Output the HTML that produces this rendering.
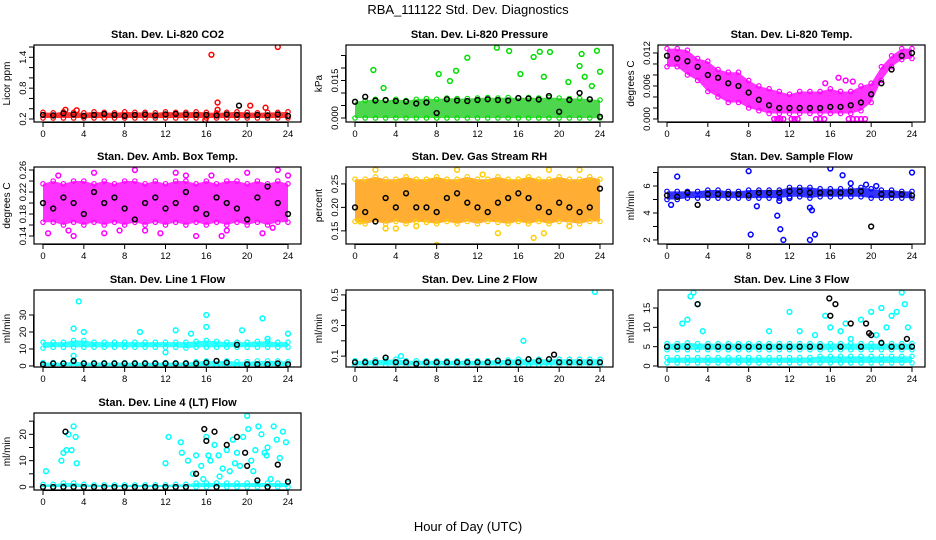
<!DOCTYPE html>
<html><head><meta charset="utf-8"><style>
body{margin:0;background:#fff}
svg{display:block;font-family:"Liberation Sans",sans-serif}
</style></head><body>
<svg id="c" width="936" height="540" viewBox="0 0 936 540">
<text x="468" y="14" font-size="13" text-anchor="middle">RBA_111122  Std. Dev. Diagnostics</text>
<text x="468" y="531" font-size="13" text-anchor="middle">Hour of Day (UTC)</text>
</svg>
<script>
// hour ticks
const xTicks=[0,4,8,12,16,20,24];
const H=[0,1,2,3,4,5,6,7,8,9,10,11,12,13,14,15,16,17,18,19,20,21,22,23,24];
// CO2
const co2Lo=[0.22,0.22,0.22,0.22,0.22,0.22,0.22,0.22,0.22,0.22,0.22,0.22,0.22,0.22,0.22,0.22,0.22,0.22,0.22,0.22,0.22,0.22,0.22,0.22,0.22];
const co2Hi=[0.33,0.32,0.34,0.33,0.32,0.34,0.33,0.32,0.34,0.33,0.33,0.32,0.34,0.33,0.33,0.34,0.33,0.32,0.33,0.34,0.33,0.32,0.33,0.33,0.34];
const co2Blk=[0.28,0.27,0.31,0.29,0.26,0.28,0.3,0.28,0.26,0.28,0.29,0.27,0.29,0.3,0.29,0.28,0.28,0.27,0.29,0.28,0.27,0.28,0.27,0.29,0.26];
const co2OutX=[16.5,23,17.1,20.3,21.8,2.2,3.3,17.1,15.9];
const co2OutY=[1.45,1.6,0.52,0.46,0.42,0.38,0.37,0.38,0.18];
const co2BoX=[19.2];const co2BoY=[0.46];
// Pressure
const prLo=[0,0,0,0,0,0,0,0,0,0,0,0,0,0,0,0,0,0,0,0,0,0,0,0,0];
const prHi=[0.0065,0.007,0.0075,0.007,0.0075,0.007,0.0075,0.0078,0.0075,0.008,0.0078,0.0078,0.008,0.0082,0.008,0.0082,0.008,0.0082,0.008,0.0082,0.008,0.0078,0.0078,0.0075,0.0072];
const prBlk=[0.0065,0.0085,0.007,0.0072,0.0068,0.0066,0.0058,0.0062,0.002,0.0075,0.007,0.0068,0.0072,0.0075,0.0072,0.007,0.008,0.0078,0.0074,0.0088,0.0025,0.0072,0.01,0.0075,0.0005];
const prOutX=[1.8,2.8,8.2,9.3,9.9,11,13.9,15.1,16.2,17.5,18.1,18.5,19.1,20.9,22,22.2,22.5,23.2,23.7,24];
const prOutY=[0.0192,0.012,0.0176,0.0148,0.0189,0.0241,0.0281,0.0268,0.0176,0.0244,0.0265,0.0165,0.0264,0.0144,0.0208,0.0256,0.0165,0.0128,0.0269,0.0185];
// Temp
const tLo=[0.0095,0.0095,0.008,0.007,0.005,0.004,0.003,0.003,0.002,0.0015,0.001,0.001,0.001,0.001,0.001,0.001,0.001,0.001,0.001,0.0015,0.003,0.007,0.0095,0.0108,0.011];
const tHi=[0.0128,0.0128,0.0125,0.011,0.0105,0.009,0.0085,0.0085,0.007,0.006,0.0055,0.005,0.0045,0.005,0.005,0.005,0.0055,0.005,0.005,0.006,0.0065,0.0095,0.0115,0.0128,0.0128];
const tBlk=[0.0115,0.011,0.0105,0.0095,0.008,0.0075,0.0065,0.006,0.0048,0.0035,0.0025,0.002,0.002,0.002,0.002,0.002,0.0022,0.0022,0.0025,0.003,0.0045,0.0065,0.009,0.0115,0.012];
const tOutX=[10.5,10.8,11.1,11.4,12.2,12.5,12.8,14.6,15,15.4,17.8,18.2,18.6,19,19.4,15.5,16.8,17.5,18.2];
const tOutY=[0,0,0,0,0,0,0,0,0,0,0,0,0,0,0,0.0065,0.0075,0.007,0.0068];
// Amb box temp
const abLo=[0.165,0.165,0.16,0.165,0.16,0.165,0.16,0.165,0.16,0.165,0.16,0.165,0.16,0.165,0.16,0.165,0.16,0.165,0.16,0.165,0.16,0.165,0.16,0.165,0.165];
const abHi=[0.235,0.24,0.235,0.24,0.24,0.235,0.24,0.235,0.24,0.24,0.235,0.24,0.235,0.24,0.24,0.235,0.24,0.235,0.24,0.24,0.235,0.24,0.235,0.24,0.235];
const abBlk=[0.2,0.19,0.21,0.2,0.18,0.22,0.2,0.21,0.19,0.17,0.2,0.21,0.19,0.2,0.22,0.19,0.18,0.21,0.2,0.19,0.17,0.21,0.23,0.2,0.18];
const abOutX=[0.5,1.5,3,5,7.5,9,11.5,13,15,16.5,18,20,21.5,23,24,2.5,6,10,14,17.5,22.5];
const abOutY=[0.145,0.25,0.14,0.255,0.15,0.26,0.145,0.255,0.14,0.25,0.15,0.255,0.145,0.26,0.25,0.15,0.145,0.15,0.25,0.14,0.155];
// Gas RH
const rhLo=[0.17,0.165,0.17,0.165,0.17,0.165,0.17,0.168,0.165,0.17,0.165,0.17,0.165,0.17,0.168,0.165,0.17,0.165,0.17,0.165,0.17,0.168,0.165,0.17,0.17];
const rhHi=[0.26,0.26,0.265,0.26,0.26,0.265,0.26,0.26,0.265,0.26,0.26,0.265,0.26,0.26,0.265,0.26,0.26,0.265,0.26,0.26,0.265,0.26,0.26,0.265,0.26];
const rhBlk=[0.2,0.19,0.17,0.22,0.2,0.23,0.2,0.2,0.19,0.22,0.23,0.21,0.2,0.19,0.21,0.22,0.23,0.22,0.2,0.19,0.21,0.2,0.19,0.2,0.24];
const rhOutX=[8,0.5,2,4,10,14,17.5,18.5,19,21,3,6,12.5,22];
const rhOutY=[0.12,0.17,0.28,0.155,0.28,0.145,0.135,0.145,0.28,0.16,0.155,0.16,0.27,0.28];
// Sample flow
const sfLo=[5.0,5.0,5.1,5.1,5.1,5.1,5.1,5.1,5.1,5.1,5.1,5.1,5.2,5.2,5.1,5.2,5.2,5.2,5.2,5.2,5.1,5.1,5.1,5.1,5.1];
const sfHi=[5.6,5.6,5.6,5.6,5.7,5.7,5.6,5.6,5.7,5.7,5.7,5.7,5.9,5.9,5.9,5.8,5.8,5.8,5.8,5.9,5.8,5.7,5.7,5.6,5.6];
const sfBlk=[5.3,5.2,5.5,4.6,5.4,5.4,5.4,5.4,5.3,5.5,5.5,5.5,5.6,5.6,5.5,5.5,5.5,5.5,5.6,5.6,3.0,5.4,5.4,5.4,5.3];
const sfOutX=[0.4,1,8,8.2,8.8,10.8,11.1,11.4,14,14.2,14.5,14,16,17.2,18,19.5,20.5,24,11,12];
const sfOutY=[4.6,6.7,7.1,2.4,4.5,3.8,2.8,2.0,2.0,4.2,2.4,4.4,7.3,6.8,6.2,6.1,6.0,7.0,4.9,5.1];
// Line 1
const l1aLo=[10.5,11,11,11,11,11,11,11,11,11,11,11,11,11,10.5,11,11,11,11,11,11,11,11,11,11];
const l1aHi=[14,14,14,15,15,14,14,14,14,14,14,14,14,14,14,14.5,15,14.5,14,14,14,14.5,14.5,14,14];
const l1bLo=[0,0,0,0,0,0,0,0,0,0,0,0,0,0,0,0,0,0,0,0,0,0,0,0,0];
const l1bHi=[2,2,2,2.5,2,2,2,2,2,2,2,2,2,2,2,2.5,3,3,3,2.5,2.5,3,3,3,2.5];
const l1Blk=[1,1.5,1.5,3,1.5,1.5,1.5,1.5,1.5,1.5,1.5,1.5,1.5,1.5,1.5,1.5,2,3,2,12.5,1,1,1,1.5,1];
const l1OutX=[3.5,3,4,9.5,13,16,16,14.5,19.5,21.5,22,24,3,12];
const l1OutY=[38,22,20,20,21,30,23,19,21,28,16,19,6,8];
// Line 2
const l2Lo=[0.04,0.04,0.04,0.04,0.04,0.04,0.04,0.04,0.04,0.04,0.04,0.04,0.04,0.04,0.04,0.04,0.04,0.04,0.04,0.04,0.04,0.04,0.04,0.04,0.04];
const l2Hi=[0.07,0.07,0.075,0.075,0.08,0.07,0.07,0.07,0.07,0.07,0.07,0.07,0.07,0.07,0.075,0.075,0.08,0.08,0.08,0.08,0.08,0.08,0.08,0.08,0.08];
const l2Blk=[0.06,0.06,0.06,0.09,0.06,0.06,0.05,0.06,0.06,0.06,0.06,0.06,0.06,0.06,0.07,0.06,0.06,0.08,0.07,0.08,0.06,0.06,0.06,0.06,0.06];
const l2OutX=[16.5,23.5,4.5];
const l2OutY=[0.2,0.52,0.1];
const l2BoX=[19.5];const l2BoY=[0.11];
// Line 3
const l3aLo=[4.2,4.2,4.2,4.2,4.2,4.2,4.2,4.2,4.2,4.2,4.2,4.2,4.2,4.2,4.2,4.2,4.2,4.2,4.2,4.2,4.2,4.2,4.2,4.2,4.2];
const l3aHi=[5.8,5.8,6,5.8,5.8,5.8,5.8,5.8,5.8,5.8,5.8,5.8,5.8,5.8,5.8,5.8,5.8,5.8,5.8,5.8,5.8,5.8,5.8,5.8,5.8];
const l3bLo=[0.8,0.8,0.8,0.8,0.8,0.8,0.8,0.8,0.8,0.8,0.8,0.8,0.8,0.8,0.8,0.8,0.8,0.8,0.8,0.8,0.8,0.8,0.8,0.8,0.8];
const l3bHi=[2.2,2.2,2.2,2.2,2.2,2.2,2.2,2.2,2.2,2.2,2.2,2.2,2.2,2.2,2.2,2.5,2.5,2.5,2.5,2.5,2.5,2.5,2.5,2.5,2.5];
const l3Blk=[5,5,5,16,5,5,5,5,5,5,5,5,5,5,5,5,13,5,11,5,8,6,5,5,5];
const l3OutX=[1.5,2,2.3,2.6,3,3.5,10,12,13,14.5,15.5,16,17,17.5,18,19,20,21,22,22.5,23,23.3,23.6,21.5,20.5];
const l3OutY=[11,12,18,19,16,9,9,14,9,8,13,10,9,11,7,12,14,15,13,14,19,16,10,10,8];
const l3BoX=[15.9,16.5,19.5,19.8,23.5];const l3BoY=[17.5,16,11,8.5,7];
// Line 4
const l4Lo=[0,0,0,0,0,0,0,0,0,0,0,0,0,0,0,0,0,0,0,0,0,0,0,0,0];
const l4Hi=[1,1,1.5,1.5,1,0.8,0.8,0.8,0.8,0.8,0.8,0.8,0.8,1,1,1.5,1.5,1.5,1.5,1.5,1.5,1.5,1.5,1.5,1.5];
const l4Blk=[0,0,0,0,0,0,0,0,0,0,0,0,0,0,0,5,17.5,0,16,19,8,2.5,0,8.5,2];
const l4OutX=[0.3,1.8,2,2.3,2.5,2.8,3,3.2,3.3,12,12.3,13.5,13.6,14.2,14.7,15,15.5,16,16.4,16.8,17.2,17.6,18,18.3,18.6,19,19.3,19.6,20,20.1,20.4,20.8,21.1,21.4,21.7,22,22.3,22.6,22.9,23.2,23.5,23.8,17.3,18.8,20.6,21.9,15.7,16.2];
const l4OutY=[6,10,13,14,20,14,23,19,9,9,19,17,13,10,5,12,8,19,10,16,12,7,14,6,18,13,8,19,27,22,10,14,23,20,13,15,3,23,18,11,21,17,4,9,6,12,3,12];
const l4BoX=[2.2,15.8,16.8,19.8];const l4BoY=[21,22,21,13];

const NS='http://www.w3.org/2000/svg';
const svg=document.getElementById('c');
function mk(tag,attrs,parent){const e=document.createElementNS(NS,tag);for(const k in attrs)e.setAttribute(k,attrs[k]);(parent||svg).appendChild(e);return e;}

function panel(name,left,top,title,ylab,ymin,ymax,yTicks,yLabels){
  const g=mk('g',{});
  
  
  const W=267,Hh=77;
  const fx=v=>left+9+v*245/24;
  const fy=v=>top+Hh-(v-ymin)/(ymax-ymin)*Hh;
  const t=mk('text',{x:left+W/2,y:top-7,'font-size':11,'font-weight':'bold','text-anchor':'middle'},g);
  t.textContent=title;
  
  
  const yl=mk('text',{x:0,y:0,'font-size':10,'text-anchor':'middle',transform:`translate(${left-24},${top+Hh/2}) rotate(-90)`},g);
  yl.textContent=ylab;
  
  
  const ax=mk('g',{stroke:'#000','stroke-width':1,fill:'none'},g);
  
  
  mk('line',{x1:fx(0),x2:fx(24),y1:top+Hh+0.5,y2:top+Hh+0.5},ax);
  xTicks.forEach(v=>{
    mk('line',{x1:fx(v),x2:fx(v),y1:top+Hh,y2:top+Hh+5},ax);
    const tx=mk('text',{x:fx(v),y:top+Hh+15,'font-size':9.5,'text-anchor':'middle',fill:'#000',stroke:'none'},g);
    tx.textContent=v;
    
    
  });
  const ay=mk('g',{stroke:'#000','stroke-width':1,fill:'none'},g);
  
  
  mk('line',{x1:left-0.5,x2:left-0.5,y1:fy(yTicks[0]),y2:fy(yTicks[yTicks.length-1])},ay);
  yTicks.forEach((v,i)=>{
    mk('line',{x1:left-5,x2:left,y1:fy(v),y2:fy(v)},ay);
    if(yLabels[i]){
      const tl=mk('text',{x:0,y:0,'font-size':9.5,'text-anchor':'middle',fill:'#000',stroke:'none',transform:`translate(${left-8},${fy(v)}) rotate(-90)`},g);
      tl.textContent=yLabels[i];
      
      
    }
  });
  const clip='clip-'+name;
  const cp=mk('clipPath',{id:clip},g);mk('rect',{x:left,y:top,width:W,height:Hh},cp);
  const d=mk('g',{'clip-path':`url(#${clip})`},g);
  mk('rect',{x:left,y:top,width:W,height:Hh,fill:'none',stroke:'#000','stroke-width':1.2},g);
  return {
    band(lo,hi,col,fill){
      let p='M'+H.map((h,i)=>fx(h)+','+fy(hi[i])).join('L')+'L'+H.slice().reverse().map((h,j)=>fx(h)+','+fy(lo[H.length-1-j])).join('L')+'Z';
      const b=mk('path',{d:p,fill:fill||col,'fill-opacity':0.8,stroke:'none'},d);
      
      
      H.forEach((h,i)=>{[lo[i],hi[i]].forEach(v=>{
        const c=mk('circle',{cx:fx(h),cy:fy(v),r:2.2,fill:'none',stroke:col,'stroke-width':1.2},d);
        
        
      });});
    },
    pts(xs,ys,col){
      xs.forEach((x,i)=>{
        const c=mk('circle',{cx:fx(x),cy:fy(ys[i]),r:2.4,fill:'none',stroke:col,'stroke-width':1.5},d);
        
        
      });
    }
  };
}
const BK='#000';
let p;
p=panel('co2',34,45,'Stan. Dev. Li-820 CO2','Licor ppm',0.142,1.639,[0.2,0.4,0.6,0.8,1.0,1.2,1.4,1.6],['0.2','','','0.8','','','1.4','']);
p.band(co2Lo,co2Hi,'#ff0000');p.pts(co2OutX,co2OutY,'#ff0000');p.pts(H,co2Blk,BK);p.pts(co2BoX,co2BoY,BK);

p=panel('pressure',346,45,'Stan. Dev. Li-820 Pressure','kPa',-0.0016,0.0292,[0,0.005,0.01,0.015,0.02,0.025],['0.000','','','0.015','','']);
p.band(prLo,prHi,'#00dd00','#22cc22');p.pts(prOutX,prOutY,'#00dd00');p.pts(H,prBlk,BK);

p=panel('temp',658,45,'Stan. Dev. Li-820 Temp.','degrees C',-0.00055,0.01345,[0,0.002,0.004,0.006,0.008,0.01,0.012],['0.000','','','0.006','','','0.012']);
p.band(tLo,tHi,'#ff00ff');p.pts(tOutX,tOutY,'#ff00ff');p.pts(H,tBlk,BK);

p=panel('amb-box-temp',34,167,'Stan. Dev. Amb. Box Temp.','degrees C',0.1255,0.2655,[0.14,0.16,0.18,0.2,0.22,0.24,0.26],['0.14','','0.18','','0.22','','0.26']);
p.band(abLo,abHi,'#ff00ff');p.pts(abOutX,abOutY,'#ff00ff');p.pts(H,abBlk,BK);

p=panel('gas-rh',346,167,'Stan. Dev. Gas Stream RH','percent',0.122,0.286,[0.15,0.2,0.25],['0.15','0.20','0.25']);
p.band(rhLo,rhHi,'#ffcc00','#ff9900');p.pts(rhOutX,rhOutY,'#ffcc00');p.pts(H,rhBlk,BK);

p=panel('sample-flow',658,167,'Stan. Dev. Sample Flow','ml/min',1.70,7.41,[2,3,4,5,6,7],['2','','4','','6','']);
p.band(sfLo,sfHi,'#0000ff');p.pts(sfOutX,sfOutY,'#0000ff');p.pts(H,sfBlk,BK);

p=panel('line1-flow',34,290,'Stan. Dev. Line 1 Flow','ml/min',-0.6,44.7,[0,10,20,30],['0','10','20','30']);
p.band(l1aLo,l1aHi,'#00ffff');p.band(l1bLo,l1bHi,'#00ffff');p.pts(l1OutX,l1OutY,'#00ffff');p.pts(H,l1Blk,BK);

p=panel('line2-flow',346,290,'Stan. Dev. Line 2 Flow','ml/min',0.029,0.532,[0.1,0.2,0.3,0.4,0.5],['0.1','','0.3','','0.5']);
p.band(l2Lo,l2Hi,'#00ffff');p.pts(l2OutX,l2OutY,'#00ffff');p.pts(H,l2Blk,BK);p.pts(l2BoX,l2BoY,BK);

p=panel('line3-flow',658,290,'Stan. Dev. Line 3 Flow','ml/min',-0.26,19.66,[0,5,10,15],['0','5','10','15']);
p.band(l3aLo,l3aHi,'#00ffff');p.band(l3bLo,l3bHi,'#00ffff');p.pts(l3OutX,l3OutY,'#00ffff');p.pts(H,l3Blk,BK);p.pts(l3BoX,l3BoY,BK);

p=panel('line4-flow',34,413,'Stan. Dev. Line 4 (LT) Flow','ml/min',-1.15,28.1,[0,5,10,15,20,25],['0','','10','','20','']);
p.band(l4Lo,l4Hi,'#00ffff');p.pts(l4OutX,l4OutY,'#00ffff');p.pts(H,l4Blk,BK);p.pts(l4BoX,l4BoY,BK);
</script>
</body></html>
